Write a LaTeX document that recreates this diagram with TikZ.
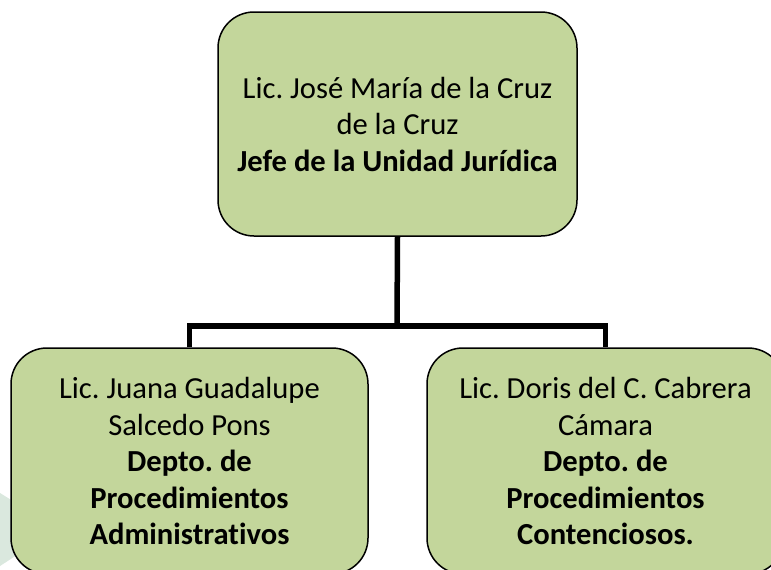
\documentclass[tikz,border=0pt]{standalone}
\usepackage{fontspec}
\setmainfont{Carlito}[Ligatures=NoCommon]
\usetikzlibrary{calc}
\definecolor{boxgreen}{RGB}{195,214,155}
\definecolor{wmark}{RGB}{218,232,222}
\frenchspacing

\begin{document}
\begin{tikzpicture}[x=1pt,y=-1pt,
  unit/.style={draw=black, line width=1.5pt, fill=boxgreen, rounded corners=36pt, align=center, inner sep=0pt, font=\fontsize{30.6}{36.5}\selectfont},
  conn/.style={black, line width=5.5pt}]
\useasboundingbox (0,0) rectangle (771,570);
\clip (0,0) rectangle (771,570);
\fill[white] (0,0) rectangle (771,570);
\fill[wmark] (0,493) -- (40,518) -- (40,540) -- (0,566) -- cycle;
\node[unit, minimum width=359pt, minimum height=224pt] (jefe) at (397.5,124) {Lic. José María de la Cruz\\ de la Cruz\\ \textbf{Jefe de la Unidad Jurídica}};
\node[unit, minimum width=357pt, minimum height=226pt] (admin) at (189.5,461) {Lic. Juana Guadalupe\\ Salcedo Pons\\ \textbf{Depto. de}\\ \textbf{Procedimientos}\\ \textbf{Administrativos}};
\node[unit, minimum width=357pt, minimum height=226pt] (cont) at (605.5,461) {Lic. Doris del C. Cabrera\\ Cámara\\ \textbf{Depto. de}\\ \textbf{Procedimientos}\\ \textbf{Contenciosos.}};
\coordinate (bar) at (397,326);
\draw[conn] (jefe.south) -- (bar);
\draw[conn] (admin.north) |- (bar) -| (cont.north);
\end{tikzpicture}
\end{document}
